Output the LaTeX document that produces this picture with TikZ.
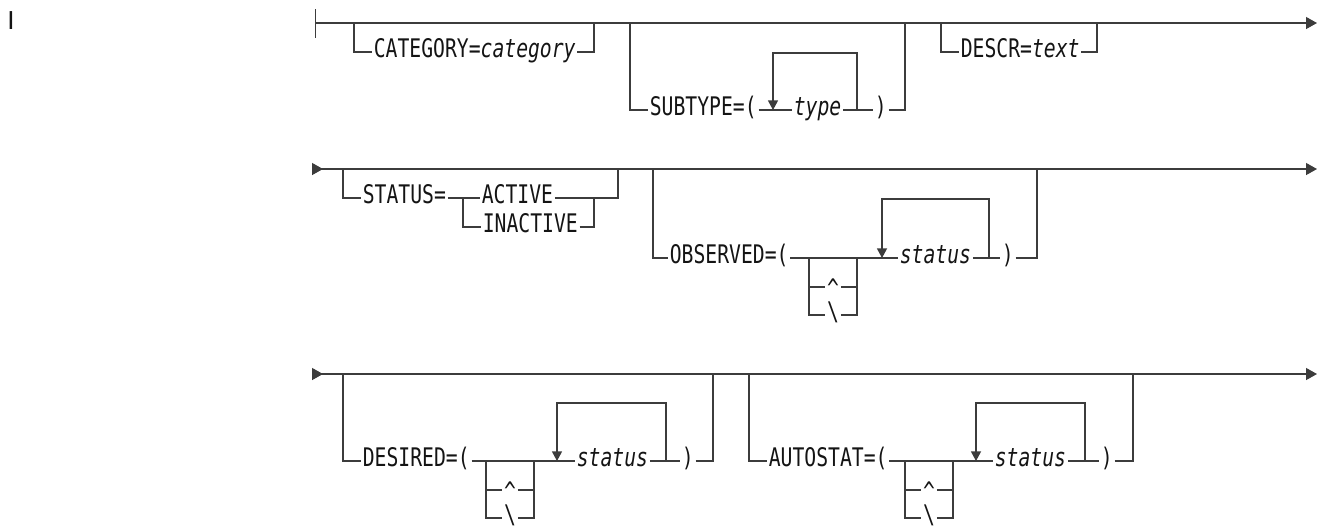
\documentclass[tikz,border=0pt]{standalone}
\usepackage{fontspec}
\setmainfont{DejaVu Sans}
\newfontfamily\railfont[FakeStretch=0.77]{DejaVu Sans Mono}
\usetikzlibrary{arrows.meta}
\definecolor{railgray}{RGB}{60,60,60}
\definecolor{inkblack}{RGB}{20,20,20}

\begin{document}
\begin{tikzpicture}[
 x=0.5pt,y=-0.5pt,line width=0.65pt,
 rail/.style={draw=railgray},
 term/.style={anchor=mid west,inner sep=0.6pt,text=inkblack,
              font=\railfont\fontsize{12.8}{15}\selectfont},
 sym/.style={term,anchor=mid},
 rowline/.style={draw=railgray,
   {Triangle[reversed,length=5.5pt,width=6pt]}-{Triangle[length=5.5pt,width=6pt]}},
 reparrow/.style={-{Triangle[length=4.8pt,width=5pt]}}]
 \useasboundingbox (0,0) rectangle (1323,527);
 \node (rev) [inner sep=0pt,text=inkblack,font=\fontsize{12.3}{14}\selectfont] at (11,21) {I};
 % first row
 \coordinate (r1s) at (315,23);
 \coordinate (r1e) at (1317,23);
 \draw[rail,{Bar[width=14.5pt]}-{Triangle[length=5.5pt,width=6pt]}] (r1s) -- (r1e);
 \coordinate (cat1) at (354,23);
 \coordinate (cat2) at (594,23);
 \node (cat) [term] at (372,52) {CATEGORY=\textit{category}};
 \draw[rail] (cat1) |- (cat.mid west);
 \draw[rail] (cat.mid east) -| (cat2);
 \coordinate (sub1) at (630,23);
 \coordinate (sub2) at (905,23);
 \node (sub) [term] at (648,110) {SUBTYPE=(};
 \coordinate (typin) at (773,110);
 \node (typ) [term] at (792,110) {\textit{type}};
 \coordinate (typout) at (857,110);
 \coordinate (typtop) at (857,53);
 \node (subend) [term] at (873,110) {)};
 \draw[rail] (sub1) |- (sub.mid west);
 \draw[rail] (sub.mid east) -- (typ.mid west);
 \draw[rail] (typ.mid east) -- (subend.mid west);
 \draw[rail] (subend.mid east) -| (sub2);
 \draw[rail,reparrow] (typout) -- (typtop) -| (typin);
 \coordinate (dsc1) at (941,23);
 \coordinate (dsc2) at (1097,23);
 \node (dsc) [term] at (959,52) {DESCR=\textit{text}};
 \draw[rail] (dsc1) |- (dsc.mid west);
 \draw[rail] (dsc.mid east) -| (dsc2);
 % second row
 \coordinate (r2s) at (312,169);
 \coordinate (r2e) at (1317,169);
 \draw[rowline] (r2s) -- (r2e);
 \coordinate (st1) at (343,169);
 \coordinate (st2) at (618,169);
 \node (st) [term] at (361,198) {STATUS=};
 \coordinate (stj) at (463,198);
 \coordinate (stk) at (594,198);
 \node (act) [term] at (480,198) {ACTIVE};
 \node (inact) [term] at (481,227) {INACTIVE};
 \draw[rail] (st1) |- (st.mid west);
 \draw[rail] (st.mid east) -- (act.mid west);
 \draw[rail] (act.mid east) -| (st2);
 \draw[rail] (stj) |- (inact.mid west);
 \draw[rail] (inact.mid east) -| (stk);
 \coordinate (ob1) at (653,169);
 \coordinate (ob2) at (1037,169);
 \node (ob) [term] at (668,258) {OBSERVED=(};
 \coordinate (obl) at (809,258);
 \coordinate (obr) at (857,258);
 \coordinate (obl1) at (809,287);
 \coordinate (obr1) at (857,287);
 \node (obhat) [sym,yshift=-2.5pt] at (833,287) {\textasciicircum};
 \node (obbs) [sym] at (833,315) {\textbackslash};
 \coordinate (obin) at (882,258);
 \node (obst) [term] at (898,258) {\textit{status}};
 \coordinate (obout) at (989,258);
 \coordinate (obtop) at (989,199);
 \node (obend) [term] at (1000,258) {)};
 \draw[rail] (ob1) |- (ob.mid west);
 \draw[rail] (ob.mid east) -- (obst.mid west);
 \draw[rail] (obl) |- (obbs.mid west);
 \draw[rail] (obbs.mid east) -| (obr);
 \draw[rail] (obl1) -- (obhat.west |- obl1);
 \draw[rail] (obhat.east |- obr1) -- (obr1);
 \draw[rail,reparrow] (obout) -- (obtop) -| (obin);
 \draw[rail] (obst.mid east) -- (obend.mid west);
 \draw[rail] (obend.mid east) -| (ob2);
 % third row
 \coordinate (r3s) at (312,374);
 \coordinate (r3e) at (1317,374);
 \draw[rowline] (r3s) -- (r3e);
 \coordinate (de1) at (343,374);
 \coordinate (de2) at (713,374);
 \node (de) [term] at (361,461) {DESIRED=(};
 \coordinate (del) at (486,461);
 \coordinate (der) at (534,461);
 \coordinate (del1) at (486,490);
 \coordinate (der1) at (534,490);
 \node (dehat) [sym,yshift=-2.5pt] at (510,490) {\textasciicircum};
 \node (debs) [sym] at (510,518) {\textbackslash};
 \coordinate (dein) at (557,461);
 \node (dest) [term] at (575,461) {\textit{status}};
 \coordinate (deout) at (666,461);
 \coordinate (detop) at (666,403);
 \node (deend) [term] at (680,461) {)};
 \draw[rail] (de1) |- (de.mid west);
 \draw[rail] (de.mid east) -- (dest.mid west);
 \draw[rail] (del) |- (debs.mid west);
 \draw[rail] (debs.mid east) -| (der);
 \draw[rail] (del1) -- (dehat.west |- del1);
 \draw[rail] (dehat.east |- der1) -- (der1);
 \draw[rail,reparrow] (deout) -- (detop) -| (dein);
 \draw[rail] (dest.mid east) -- (deend.mid west);
 \draw[rail] (deend.mid east) -| (de2);
 \coordinate (au1) at (749,374);
 \coordinate (au2) at (1133,374);
 \node (au) [term] at (767,461) {AUTOSTAT=(};
 \coordinate (aul) at (905,461);
 \coordinate (aur) at (953,461);
 \coordinate (aul1) at (905,490);
 \coordinate (aur1) at (953,490);
 \node (auhat) [sym,yshift=-2.5pt] at (929,490) {\textasciicircum};
 \node (aubs) [sym] at (929,518) {\textbackslash};
 \coordinate (auin) at (976,461);
 \node (aust) [term] at (993,461) {\textit{status}};
 \coordinate (auout) at (1085,461);
 \coordinate (autop) at (1085,403);
 \node (auend) [term] at (1099,461) {)};
 \draw[rail] (au1) |- (au.mid west);
 \draw[rail] (au.mid east) -- (aust.mid west);
 \draw[rail] (aul) |- (aubs.mid west);
 \draw[rail] (aubs.mid east) -| (aur);
 \draw[rail] (aul1) -- (auhat.west |- aul1);
 \draw[rail] (auhat.east |- aur1) -- (aur1);
 \draw[rail,reparrow] (auout) -- (autop) -| (auin);
 \draw[rail] (aust.mid east) -- (auend.mid west);
 \draw[rail] (auend.mid east) -| (au2);
\end{tikzpicture}
\end{document}
